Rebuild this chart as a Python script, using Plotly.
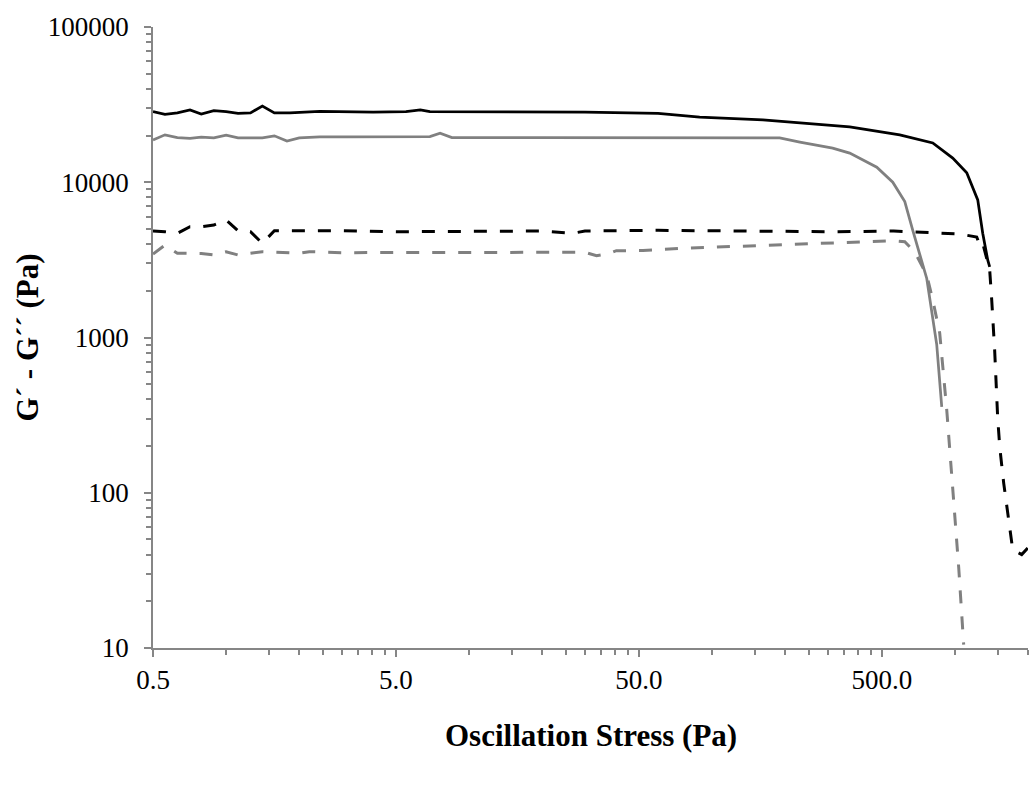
import plotly.graph_objects as go

# ---- data (stress in Pa, moduli in Pa) ----
g1_storage_x = [0.5, 0.56, 0.63, 0.71, 0.79, 0.89, 1.0, 1.12, 1.26, 1.41, 1.58, 1.83, 2.43, 3.13, 4.03,
                5.5, 6.3, 6.9, 7.6, 15, 30, 60, 89, 162, 369, 593, 811, 980, 1119, 1242, 1302, 1365, 1391]
g1_storage_y = [28500, 27400, 28000, 29200, 27500, 28900, 28500, 27800, 28000, 31000, 28000, 28000, 28600,
                28300, 28300, 28500, 29200, 28500, 28500, 28400, 28300, 27800, 26300, 25200, 22700, 20200,
                17900, 14300, 11500, 7700, 4700, 3160, 2850]

g2_storage_x = [0.5, 0.56, 0.63, 0.71, 0.79, 0.89, 1.0, 1.12, 1.26, 1.41, 1.58, 1.78, 2.0, 2.43, 3.13, 4.03,
                5.5, 6.9, 7.6, 8.5, 20, 50, 100, 190, 230, 314, 369, 477, 555, 622, 671, 766, 842, 883]
g2_storage_y = [18700, 20200, 19400, 19200, 19500, 19300, 20100, 19300, 19300, 19300, 19900, 18400, 19300,
                19600, 19600, 19600, 19700, 19700, 20700, 19400, 19400, 19300, 19300, 19300, 18150, 16600,
                15400, 12500, 10000, 7500, 4900, 2400, 900, 357]

g1_loss_x = [0.5, 0.56, 0.63, 0.71, 0.79, 0.89, 1.0, 1.12, 1.26, 1.41, 1.58, 2.0, 3.0, 5.0, 10, 20, 26.7,
             30, 60, 122, 314, 560, 1047, 1230, 1265, 1300, 1391, 1418, 1458, 1500, 1530, 1589, 1682,
             1730, 1884, 1995]
g1_loss_y = [4850, 4800, 4690, 5170, 5170, 5300, 5710, 4870, 4800, 4040, 4870, 4870, 4870, 4800, 4850,
             4850, 4690, 4850, 4900, 4850, 4800, 4850, 4640, 4440, 3940, 4100, 2720, 1744, 830, 307, 197,
             115, 57, 43, 40, 44]

g2_loss_x = [0.5, 0.56, 0.63, 0.71, 0.79, 0.89, 1.0, 1.12, 1.26, 1.41, 2.0, 2.2, 3.0, 5.0, 10, 20, 30,
             33.5, 38, 40.4, 52, 76, 122, 196, 314, 434, 555, 622, 684, 766, 811, 866, 926, 980, 1037, 1087]
g2_loss_y = [3450, 3940, 3490, 3470, 3480, 3400, 3570, 3400, 3490, 3570, 3490, 3570, 3520, 3520, 3520,
             3520, 3540, 3365, 3490, 3625, 3630, 3755, 3846, 3943, 4044, 4140, 4200, 4140, 3554, 2527,
             1744, 1069, 341, 109, 33, 10.5]

x_ticks = [0.5, 5, 50, 500]
x_tick_text = ["0.5", "5.0", "50.0", "500.0"]
x_minor = [1, 1.5, 2, 2.5, 3, 3.5, 4, 4.5, 10, 15, 20, 25, 30, 35, 40, 45,
           100, 150, 200, 250, 300, 350, 400, 450, 1000, 1500, 2000]
y_ticks = [10, 100, 1000, 10000, 100000]
y_tick_text = ["10", "100", "1000", "10000", "100000"]
y_minor = [20, 30, 40, 50, 60, 70, 80, 90, 200, 300, 400, 500, 600, 700, 800, 900,
           2000, 3000, 4000, 5000, 6000, 7000, 8000, 9000, 20000, 30000, 40000, 50000, 60000, 70000, 80000, 90000]

BLACK = "#000000"
GREY = "#808080"
AXIS = "#868686"
FONT = "Liberation Serif"

fig = go.Figure()
fig.add_trace(go.Scatter(x=g2_loss_x, y=g2_loss_y, mode="lines",
                         line=dict(color=GREY, width=3, dash="13px,13px")))
fig.add_trace(go.Scatter(x=g1_loss_x, y=g1_loss_y, mode="lines",
                         line=dict(color=BLACK, width=3, dash="13px,13px")))
fig.add_trace(go.Scatter(x=g2_storage_x, y=g2_storage_y, mode="lines",
                         line=dict(color=GREY, width=2.75)))
fig.add_trace(go.Scatter(x=g1_storage_x, y=g1_storage_y, mode="lines",
                         line=dict(color=BLACK, width=2.75)))

fig.update_layout(
    width=1033, height=787,
    margin=dict(l=153, r=5, t=27, b=139),
    paper_bgcolor="white", plot_bgcolor="white",
    showlegend=False,
    font=dict(family=FONT, size=27, color="black"),
    xaxis=dict(type="log", range=[-0.30103, 3.30103],
               tickmode="array", tickvals=x_ticks, ticktext=x_tick_text,
               showline=True, linecolor=AXIS, linewidth=1.5,
               ticks="outside", ticklen=7, tickwidth=1.5, tickcolor=AXIS,
               minor=dict(tickmode="array", tickvals=x_minor, ticks="outside",
                          ticklen=5, tickwidth=1.5, tickcolor=AXIS, showgrid=False),
               showgrid=False, zeroline=False,
               tickfont=dict(family=FONT, size=27, color="black")),
    yaxis=dict(type="log", range=[1, 5],
               tickmode="array", tickvals=y_ticks, ticktext=y_tick_text,
               showline=True, linecolor=AXIS, linewidth=1.5,
               ticks="outside", ticklen=7, tickwidth=1.5, tickcolor=AXIS,
               minor=dict(tickmode="array", tickvals=y_minor, ticks="outside",
                          ticklen=5, tickwidth=1.5, tickcolor=AXIS, showgrid=False),
               showgrid=False, zeroline=False, ticklabelstandoff=10,
               tickfont=dict(family=FONT, size=27, color="black")),
    annotations=[
        dict(text="<b>Oscillation Stress (Pa)</b>", xref="paper", yref="paper",
             x=0.5, y=-0.141, xanchor="center", yanchor="middle", showarrow=False,
             font=dict(family=FONT, size=31, color="black")),
        dict(text="<b>G´ - G´´ (Pa)</b>", xref="paper", yref="paper",
             x=-0.143, y=0.5, xanchor="center", yanchor="middle", showarrow=False,
             textangle=-90, font=dict(family=FONT, size=31, color="black")),
    ],
)

fig.write_html("out.html", config={"displayModeBar": False},
               post_script="document.body.style.margin='0px';document.body.style.overflow='hidden';")
